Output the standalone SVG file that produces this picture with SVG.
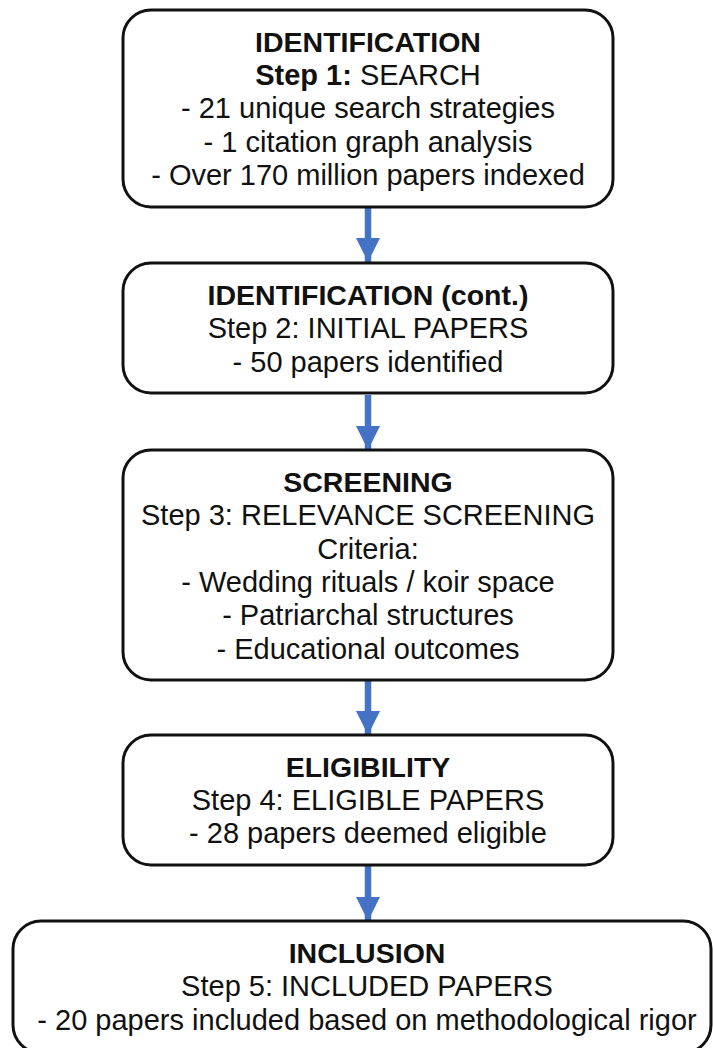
<svg xmlns="http://www.w3.org/2000/svg" width="713" height="1048" viewBox="0 0 713 1048">
<style>
.box{fill:#fff;stroke:#111;stroke-width:3}
text{font-family:"Liberation Sans",Arial,sans-serif;font-size:29px;fill:#111;text-anchor:middle}
.b{font-weight:bold;font-size:28.5px}
.conn{stroke:#4472C4;stroke-width:6.5;fill:none}
</style>
<defs>
<marker id="ah" markerUnits="userSpaceOnUse" markerWidth="24" markerHeight="25" refX="24" refY="12" orient="auto">
<path d="M0,0 L24,12 L0,24 Z" fill="#4472C4"/>
</marker>
</defs>
<rect width="713" height="1048" fill="#fff"/>
<g id="connectors">
<line class="conn" x1="368" y1="208" x2="368" y2="262" marker-end="url(#ah)"/>
<line class="conn" x1="368" y1="395" x2="368" y2="450" marker-end="url(#ah)"/>
<line class="conn" x1="368" y1="681" x2="368" y2="735" marker-end="url(#ah)"/>
<line class="conn" x1="368" y1="866" x2="368" y2="921" marker-end="url(#ah)"/>
</g>
<g id="n1">
<rect class="box" x="123" y="10" width="490" height="197" rx="28"/>
<text x="368" y="52" class="b">IDENTIFICATION</text>
<text x="368" y="85"><tspan font-weight="bold">Step 1:</tspan> SEARCH</text>
<text x="368" y="118">- 21 unique search strategies</text>
<text x="368" y="152">- 1 citation graph analysis</text>
<text x="368" y="185">- Over 170 million papers indexed</text>
</g>
<g id="n2">
<rect class="box" x="123" y="263" width="490" height="130" rx="28"/>
<text x="368" y="305" class="b">IDENTIFICATION (cont.)</text>
<text x="368" y="338">Step 2: INITIAL PAPERS</text>
<text x="368" y="372">- 50 papers identified</text>
</g>
<g id="n3">
<rect class="box" x="123" y="450" width="490" height="230" rx="28"/>
<text x="368" y="492" class="b">SCREENING</text>
<text x="368" y="525">Step 3: RELEVANCE SCREENING</text>
<text x="368" y="559">Criteria:</text>
<text x="368" y="592">- Wedding rituals / koir space</text>
<text x="368" y="625">- Patriarchal structures</text>
<text x="368" y="659">- Educational outcomes</text>
</g>
<g id="n4">
<rect class="box" x="123" y="735" width="490" height="130" rx="28"/>
<text x="368" y="777" class="b">ELIGIBILITY</text>
<text x="368" y="810">Step 4: ELIGIBLE PAPERS</text>
<text x="368" y="843">- 28 papers deemed eligible</text>
</g>
<g id="n5">
<rect class="box" x="13" y="921" width="698" height="132" rx="28"/>
<text x="367" y="963" class="b">INCLUSION</text>
<text x="367" y="996">Step 5: INCLUDED PAPERS</text>
<text x="367" y="1030">- 20 papers included based on methodological rigor</text>
</g>
</svg>
